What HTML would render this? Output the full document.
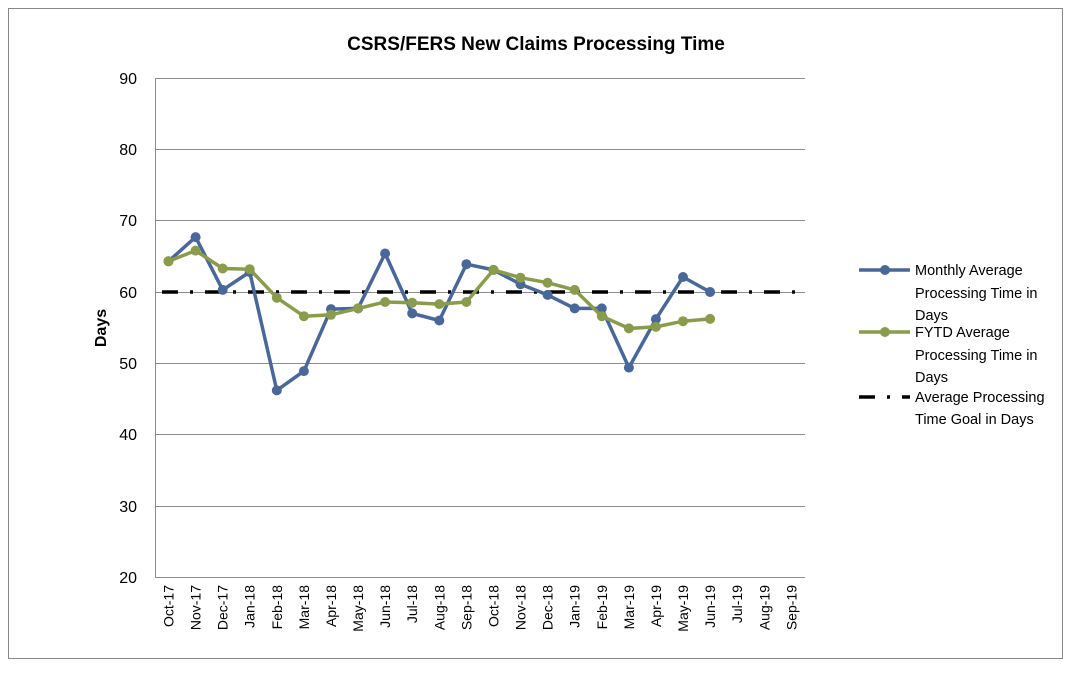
<!DOCTYPE html>
<html><head><meta charset="utf-8"><style>
html,body{margin:0;padding:0;background:#fff;}
svg{display:block;font-family:"Liberation Sans",sans-serif;}
</style></head><body>
<svg width="1076" height="674" viewBox="0 0 1076 674" xmlns="http://www.w3.org/2000/svg">
<rect x="8.5" y="8.5" width="1054" height="650" fill="#fff" stroke="#888" stroke-width="1"/>
<text x="536" y="50" font-size="19" font-weight="bold" text-anchor="middle">CSRS/FERS New Claims Processing Time</text>
<g stroke="#8c8c8c" stroke-width="1">
<line x1="155" y1="78.5" x2="805" y2="78.5"/>
<line x1="155" y1="149.5" x2="805" y2="149.5"/>
<line x1="155" y1="220.5" x2="805" y2="220.5"/>
<line x1="155" y1="292.5" x2="805" y2="292.5"/>
<line x1="155" y1="363.5" x2="805" y2="363.5"/>
<line x1="155" y1="434.5" x2="805" y2="434.5"/>
<line x1="155" y1="506.5" x2="805" y2="506.5"/>
<line x1="155" y1="577.5" x2="805" y2="577.5"/>
<line x1="155.5" y1="78" x2="155.5" y2="577"/>
</g>
<g font-size="16" text-anchor="end">
<text x="137" y="84">90</text><text x="137" y="155">80</text><text x="137" y="226">70</text>
<text x="137" y="298">60</text><text x="137" y="369">50</text><text x="137" y="440">40</text>
<text x="137" y="512">30</text><text x="137" y="583">20</text>
</g>
<text transform="translate(106,328) rotate(-90)" font-size="16" font-weight="bold" text-anchor="middle">Days</text>
<g font-size="14" text-anchor="end">
<text transform="translate(173.5,585) rotate(-90)">Oct-17</text>
<text transform="translate(200.6,585) rotate(-90)">Nov-17</text>
<text transform="translate(227.7,585) rotate(-90)">Dec-17</text>
<text transform="translate(254.7,585) rotate(-90)">Jan-18</text>
<text transform="translate(281.8,585) rotate(-90)">Feb-18</text>
<text transform="translate(308.9,585) rotate(-90)">Mar-18</text>
<text transform="translate(336,585) rotate(-90)">Apr-18</text>
<text transform="translate(363.1,585) rotate(-90)">May-18</text>
<text transform="translate(390.1,585) rotate(-90)">Jun-18</text>
<text transform="translate(417.2,585) rotate(-90)">Jul-18</text>
<text transform="translate(444.3,585) rotate(-90)">Aug-18</text>
<text transform="translate(471.4,585) rotate(-90)">Sep-18</text>
<text transform="translate(498.5,585) rotate(-90)">Oct-18</text>
<text transform="translate(525.5,585) rotate(-90)">Nov-18</text>
<text transform="translate(552.6,585) rotate(-90)">Dec-18</text>
<text transform="translate(579.7,585) rotate(-90)">Jan-19</text>
<text transform="translate(606.8,585) rotate(-90)">Feb-19</text>
<text transform="translate(633.9,585) rotate(-90)">Mar-19</text>
<text transform="translate(660.9,585) rotate(-90)">Apr-19</text>
<text transform="translate(688,585) rotate(-90)">May-19</text>
<text transform="translate(715.1,585) rotate(-90)">Jun-19</text>
<text transform="translate(742.2,585) rotate(-90)">Jul-19</text>
<text transform="translate(769.3,585) rotate(-90)">Aug-19</text>
<text transform="translate(796.3,585) rotate(-90)">Sep-19</text>
</g>
<line x1="162" y1="292" x2="800" y2="292" stroke="#000" stroke-width="3.5" stroke-dasharray="16 12 3 12"/>
<polyline fill="none" stroke="#4a6799" stroke-width="3.5" stroke-linejoin="round" points="168.5,261.3 195.6,237.1 222.7,289.9 249.7,272 276.8,390.4 303.9,371.1 331,309.1 358.1,308.4 385.1,253.5 412.2,313.4 439.3,320.5 466.4,264.2 493.5,269.9 520.5,284.2 547.6,294.9 574.7,308.4 601.8,308.4 628.9,367.6 655.9,319.1 683,277 710.1,292"/>
<g fill="#4a6799">
<circle cx="168.5" cy="261.3" r="5"/><circle cx="195.6" cy="237.1" r="5"/><circle cx="222.7" cy="289.9" r="5"/><circle cx="249.7" cy="272" r="5"/><circle cx="276.8" cy="390.4" r="5"/><circle cx="303.9" cy="371.1" r="5"/><circle cx="331" cy="309.1" r="5"/><circle cx="358.1" cy="308.4" r="5"/><circle cx="385.1" cy="253.5" r="5"/><circle cx="412.2" cy="313.4" r="5"/><circle cx="439.3" cy="320.5" r="5"/><circle cx="466.4" cy="264.2" r="5"/><circle cx="493.5" cy="269.9" r="5"/><circle cx="520.5" cy="284.2" r="5"/><circle cx="547.6" cy="294.9" r="5"/><circle cx="574.7" cy="308.4" r="5"/><circle cx="601.8" cy="308.4" r="5"/><circle cx="628.9" cy="367.6" r="5"/><circle cx="655.9" cy="319.1" r="5"/><circle cx="683" cy="277" r="5"/><circle cx="710.1" cy="292" r="5"/>
</g>
<polyline fill="none" stroke="#8a9c4c" stroke-width="3.5" stroke-linejoin="round" points="168.5,261.3 195.6,250.6 222.7,268.5 249.7,269.2 276.8,297.7 303.9,316.2 331,314.8 358.1,308.4 385.1,302 412.2,302.7 439.3,304.1 466.4,302 493.5,269.9 520.5,277.7 547.6,282.7 574.7,289.9 601.8,316.2 628.9,328.4 655.9,326.9 683,321.2 710.1,318.9"/>
<g fill="#8a9c4c">
<circle cx="168.5" cy="261.3" r="5"/><circle cx="195.6" cy="250.6" r="5"/><circle cx="222.7" cy="268.5" r="5"/><circle cx="249.7" cy="269.2" r="5"/><circle cx="276.8" cy="297.7" r="5"/><circle cx="303.9" cy="316.2" r="5"/><circle cx="331" cy="314.8" r="5"/><circle cx="358.1" cy="308.4" r="5"/><circle cx="385.1" cy="302" r="5"/><circle cx="412.2" cy="302.7" r="5"/><circle cx="439.3" cy="304.1" r="5"/><circle cx="466.4" cy="302" r="5"/><circle cx="493.5" cy="269.9" r="5"/><circle cx="520.5" cy="277.7" r="5"/><circle cx="547.6" cy="282.7" r="5"/><circle cx="574.7" cy="289.9" r="5"/><circle cx="601.8" cy="316.2" r="5"/><circle cx="628.9" cy="328.4" r="5"/><circle cx="655.9" cy="326.9" r="5"/><circle cx="683" cy="321.2" r="5"/><circle cx="710.1" cy="318.9" r="5"/>
</g>
<line x1="859" y1="270" x2="910" y2="270" stroke="#4a6799" stroke-width="3.5"/>
<circle cx="885" cy="270" r="5" fill="#4a6799"/>
<line x1="859" y1="332" x2="910" y2="332" stroke="#8a9c4c" stroke-width="3.5"/>
<circle cx="885" cy="332" r="5" fill="#8a9c4c"/>
<line x1="859" y1="397" x2="910" y2="397" stroke="#000" stroke-width="3.5" stroke-dasharray="16 12 3 12"/>
<g font-size="14.5">
<text x="915" y="275">Monthly Average</text>
<text x="915" y="298">Processing Time in</text>
<text x="915" y="320">Days</text>
<text x="915" y="337">FYTD Average</text>
<text x="915" y="360">Processing Time in</text>
<text x="915" y="382">Days</text>
<text x="915" y="402">Average Processing</text>
<text x="915" y="424">Time Goal in Days</text>
</g>
</svg>
</body></html>
